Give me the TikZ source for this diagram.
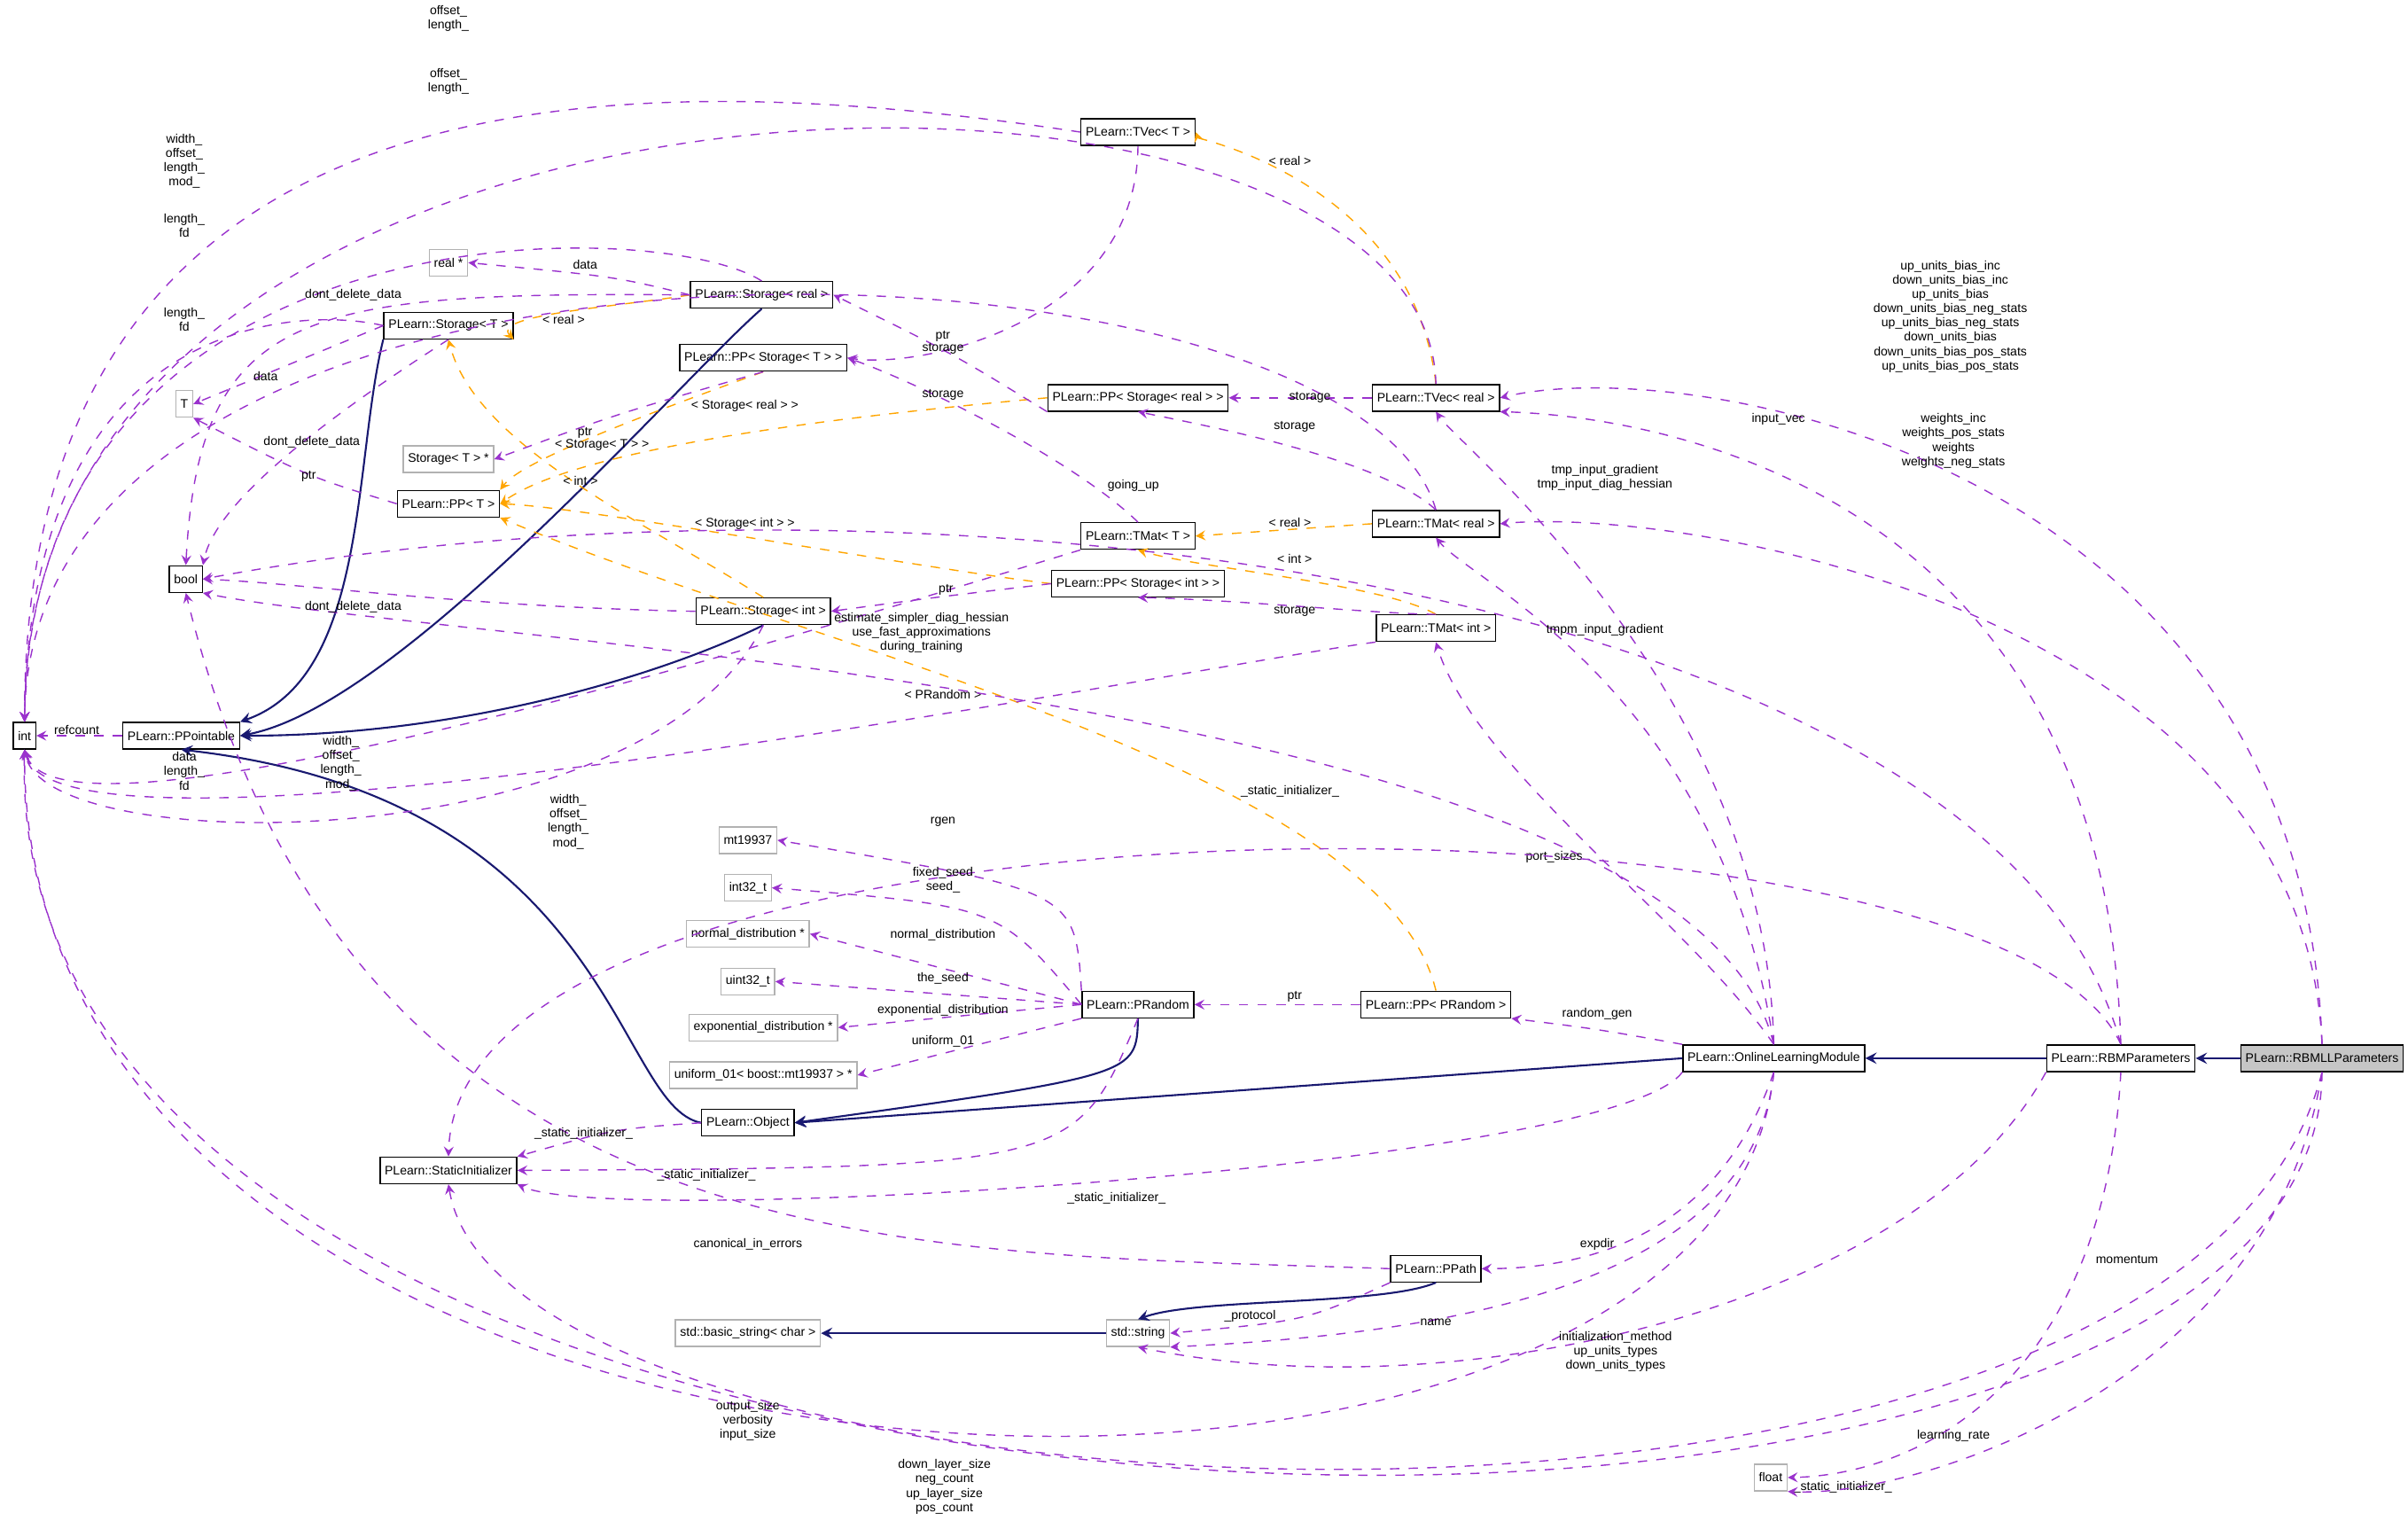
\documentclass[tikz,border=0pt]{standalone}
\usepackage{fontspec}
\setmainfont{Liberation Sans}
\usetikzlibrary{arrows}
\definecolor{usecol}{HTML}{9A32CD}
\definecolor{tplcol}{HTML}{FFA500}
\definecolor{inhcol}{HTML}{191970}
\tikzset{
  cls/.style={draw, fill=white, inner sep=1.5pt, minimum height=0.3cm, font=\fontsize{4}{5}\selectfont},
  ext/.style={cls, draw=gray!60},
  uses/.style={->, dashed, usecol},
  tpl/.style={->, dashed, tplcol},
  inh/.style={->, inhcol, semithick},
  lbl/.style={font=\fontsize{4}{4.6}\selectfont, align=center, inner sep=0pt}
}
\begin{document}
\begin{tikzpicture}[x=0.01733cm, y=-0.01733cm, >=stealth]
            \useasboundingbox (0,0) rectangle (1568,995);
            % classes
            \node[cls] (int) at (16,479) {int};
            \node[cls] (bool) at (121,377) {bool};
            \node[ext] (T) at (120,263) {T};
            \node[ext] (realp) at (292,171) {real *};
            \node[ext] (stp) at (292,299) {Storage< T > *};
            \node[cls] (ppo) at (118,479) {PLearn::PPointable};
            \node[cls] (st) at (292,212) {PLearn::Storage< T >};
            \node[cls] (ppt) at (292,328) {PLearn::PP< T >};
            \node[cls] (sr) at (496,192) {PLearn::Storage< real >};
            \node[cls] (ppst) at (497,233) {PLearn::PP< Storage< T > >};
            \node[cls] (sint) at (497,398) {PLearn::Storage< int >};
            \node[cls] (tvt) at (741,86) {PLearn::TVec< T >};
            \node[cls] (ppsr) at (741,259) {PLearn::PP< Storage< real > >};
            \node[cls] (tmt) at (741,349) {PLearn::TMat< T >};
            \node[cls] (ppsi) at (741,380) {PLearn::PP< Storage< int > >};
            \node[cls] (tvr) at (935,259) {PLearn::TVec< real >};
            \node[cls] (tmr) at (935,341) {PLearn::TMat< real >};
            \node[cls] (tmi) at (935,409) {PLearn::TMat< int >};
            \node[ext] (mt) at (487,547) {mt19937};
            \node[ext] (i32) at (487,578) {int32\_t};
            \node[ext] (nd) at (487,608) {normal\_distribution *};
            \node[ext] (u32) at (487,639) {uint32\_t};
            \node[ext] (ed) at (497,669) {exponential\_distribution *};
            \node[ext] (uni) at (497,700) {uniform\_01< boost::mt19937 > *};
            \node[cls] (pr) at (741,654) {PLearn::PRandom};
            \node[cls] (ppr) at (935,654) {PLearn::PP< PRandom >};
            \node[cls] (obj) at (487,731) {PLearn::Object};
            \node[cls] (sti) at (292,762) {PLearn::StaticInitializer};
            \node[cls] (path) at (935,826) {PLearn::PPath};
            \node[ext] (bstr) at (487,868) {std::basic\_string< char >};
            \node[ext] (str) at (741,868) {std::string};
            \node[cls] (olm) at (1155,689) {PLearn::OnlineLearningModule};
            \node[cls] (rbm) at (1381,689) {PLearn::RBMParameters};
            \node[cls, fill=gray!45] (rbmll) at (1512,689) {PLearn::RBMLLParameters};
            \node[ext] (float) at (1153,962) {float};
            % inheritance
            \draw[inh] (rbmll) -- (rbm);
            \draw[inh] (rbm) -- (olm);
            \draw[inh] (olm.west) -- (obj.east);
            \draw[inh] (pr.south) .. controls (740,700) .. (obj.east);
            \draw[inh] (obj.west) .. controls (400,720) and (400,520) .. (ppo.south);
            \draw[inh] (st.south west) .. controls (230,300) and (240,440) .. (ppo.north east);
            \draw[inh] (sr.south) .. controls (440,250) and (260,460) .. (ppo.east);
            \draw[inh] (sint.south) .. controls (430,440) and (300,479) .. (ppo.east);
            \draw[inh] (path.south) .. controls (900,850) and (780,845) .. (str.north);
            \draw[inh] (str) -- (bstr);
            % template instances
            \draw[tpl] (sr.west) .. controls (400,200) and (320,205) .. (st.south east);
            \draw[tpl] (sint.north) .. controls (420,340) and (310,290) .. (st.south);
            \draw[tpl] (ppst.south) .. controls (420,270) and (340,300) .. (ppt.north east);
            \draw[tpl] (ppsr.west) .. controls (560,270) and (380,290) .. (ppt.east);
            \draw[tpl] (ppsi.west) .. controls (600,370) and (380,330) .. (ppt.east);
            \draw[tpl] (ppr.north) .. controls (900,500) and (520,420) .. (ppt.south east);
            \draw[tpl] (tvr.north) .. controls (920,120) and (780,90) .. (tvt.east);
            \draw[tpl] (tmr.west) -- (tmt.east);
            \draw[tpl] (tmi.north) .. controls (900,380) and (780,370) .. (tmt.south);
            \node[lbl] at (367,208) {< real >};
            \node[lbl] at (378,313) {< int >};
            \node[lbl] at (392,290) {< Storage< T > >};
            \node[lbl] at (485,264) {< Storage< real > >};
            \node[lbl] at (485,341) {< Storage< int > >};
            \node[lbl] at (614,452) {< PRandom >};
            \node[lbl] at (840,105) {< real >};
            \node[lbl] at (840,340) {< real >};
            \node[lbl] at (843,364) {< int >};
            % uses: int
            \draw[uses] (ppo) -- (int);
            \draw[uses] (tvr.north) .. controls (930,0) and (16,0) .. (int.north);
            \draw[uses] (tvt.west) .. controls (400,40) and (16,40) .. (int.north);
            \draw[uses] (tmr.north) .. controls (880,140) and (20,110) .. (int.north);
            \draw[uses] (sr.north) .. controls (430,140) and (20,130) .. (int.north);
            \draw[uses] (st.west) .. controls (200,200) and (20,200) .. (int.north);
            \draw[uses] (sint.south) .. controls (420,560) and (30,560) .. (int.south);
            \draw[uses] (tmt.south west) .. controls (500,420) and (40,560) .. (int.south);
            \draw[uses] (tmi.south west) .. controls (800,430) and (40,580) .. (int.south);
            \draw[uses] (olm.south) .. controls (1120,1060) and (15,1020) .. (int.south);
            \draw[uses] (rbmll.south) .. controls (1510,1090) and (0,1060) .. (int.south);
            \node[lbl] at (50,475) {refcount};
            \node[lbl] at (292,12) {offset\_\\length\_};
            \node[lbl] at (292,53) {offset\_\\length\_};
            \node[lbl] at (120,105) {width\_\\offset\_\\length\_\\mod\_};
            \node[lbl] at (120,147) {length\_\\fd};
            \node[lbl] at (120,208) {length\_\\fd};
            \node[lbl] at (120,502) {data\\length\_\\fd};
            \node[lbl] at (222,497) {width\_\\offset\_\\length\_\\mod\_};
            \node[lbl] at (370,535) {width\_\\offset\_\\length\_\\mod\_};
            \node[lbl] at (487,925) {output\_size\\verbosity\\input\_size};
            \node[lbl] at (615,968) {down\_layer\_size\\neg\_count\\up\_layer\_size\\pos\_count};
            % uses: bool
            \draw[uses] (sr.west) .. controls (200,190) and (130,200) .. (bool.north);
            \draw[uses] (st.south) .. controls (200,280) and (140,330) .. (bool.north east);
            \draw[uses] (sint.west) .. controls (300,395) and (200,380) .. (bool.east);
            \draw[uses] (olm.north) .. controls (1100,450) and (300,420) .. (bool.south east);
            \draw[uses] (rbm.north) .. controls (1300,380) and (600,290) .. (bool.east);
            \draw[uses] (path.west) .. controls (600,815) and (230,830) .. (bool.south);
            \node[lbl] at (230,192) {dont\_delete\_data};
            \node[lbl] at (203,288) {dont\_delete\_data};
            \node[lbl] at (230,395) {dont\_delete\_data};
            \node[lbl] at (600,412) {estimate\_simpler\_diag\_hessian\\use\_fast\_approximations\\during\_training};
            \node[lbl] at (738,316) {going\_up};
            \node[lbl] at (487,810) {canonical\_in\_errors};
            % uses: small members
            \draw[uses] (st.west) -- (T.east);
            \draw[uses] (ppt.west) .. controls (200,310) .. (T.south east);
            \draw[uses] (sr.west) .. controls (400,180) .. (realp.east);
            \draw[uses] (ppst.south) .. controls (400,270) .. (stp.east);
            \draw[uses] (ppsr.south west) .. controls (620,230) .. (sr.east);
            \draw[uses] (tvt.south) .. controls (740,210) and (600,240) .. (ppst.east);
            \draw[uses] (tmt.north) .. controls (700,300) and (600,250) .. (ppst.east);
            \draw[uses] (tvr) -- (ppsr);
            \draw[uses] (tmr.north) .. controls (900,300) and (800,280) .. (ppsr.south);
            \draw[uses] (tmi.north) .. controls (900,400) and (800,390) .. (ppsi.south);
            \draw[uses] (ppsi.west) .. controls (600,390) .. (sint.east);
            \node[lbl] at (173,245) {data};
            \node[lbl] at (201,310) {ptr};
            \node[lbl] at (381,172) {data};
            \node[lbl] at (381,282) {ptr};
            \node[lbl] at (614,219) {ptr};
            \node[lbl] at (614,227) {storage};
            \node[lbl] at (614,257) {storage};
            \node[lbl] at (853,259) {storage};
            \node[lbl] at (843,278) {storage};
            \node[lbl] at (843,398) {storage};
            \node[lbl] at (616,384) {ptr};
            % uses: RBM members
            \draw[uses] (rbmll.north) .. controls (1500,300) and (1100,230) .. (tvr.east);
            \draw[uses] (rbm.north) .. controls (1370,300) and (1050,270) .. (tvr.south east);
            \draw[uses] (olm.north) .. controls (1150,450) and (950,290) .. (tvr.south);
            \draw[uses] (rbmll.north) .. controls (1500,400) and (1100,330) .. (tmr.east);
            \draw[uses] (olm.north) .. controls (1120,450) and (960,380) .. (tmr.south);
            \draw[uses] (olm.north) .. controls (1100,600) and (960,500) .. (tmi.south);
            \node[lbl] at (1270,206) {up\_units\_bias\_inc\\down\_units\_bias\_inc\\up\_units\_bias\\down\_units\_bias\_neg\_stats\\up\_units\_bias\_neg\_stats\\down\_units\_bias\\down\_units\_bias\_pos\_stats\\up\_units\_bias\_pos\_stats};
            \node[lbl] at (1158,273) {input\_vec};
            \node[lbl] at (1045,311) {tmp\_input\_gradient\\tmp\_input\_diag\_hessian};
            \node[lbl] at (1272,287) {weights\_inc\\weights\_pos\_stats\\weights\\weights\_neg\_stats};
            \node[lbl] at (1045,410) {tmpm\_input\_gradient};
            \node[lbl] at (1012,558) {port\_sizes};
            % uses: static initializer
            \draw[uses] (obj.west) .. controls (400,735) .. (sti.north east);
            \draw[uses] (pr.south) .. controls (700,760) .. (sti.east);
            \draw[uses] (olm.south west) .. controls (1050,760) and (400,800) .. (sti.south east);
            \draw[uses] (rbm.north) .. controls (1300,500) and (300,500) .. (sti.north);
            \draw[uses] (rbmll.south) .. controls (1420,1060) and (330,1000) .. (sti.south);
            \node[lbl] at (380,738) {\_static\_initializer\_};
            \node[lbl] at (460,765) {\_static\_initializer\_};
            \node[lbl] at (727,780) {\_static\_initializer\_};
            \node[lbl] at (840,515) {\_static\_initializer\_};
            \node[lbl] at (1200,968) {\_static\_initializer\_};
            % uses: PRandom
            \draw[uses] (pr.north west) .. controls (700,580) .. (mt.east);
            \draw[uses] (pr.west) .. controls (650,590) .. (i32.east);
            \draw[uses] (pr.west) -- (nd.east);
            \draw[uses] (pr.west) -- (u32.east);
            \draw[uses] (pr.west) -- (ed.east);
            \draw[uses] (pr.south west) -- (uni.east);
            \draw[uses] (ppr) -- (pr);
            \draw[uses] (olm.north west) .. controls (1040,670) .. (ppr.south east);
            \draw[uses] (olm.south) .. controls (1120,800) and (1040,826) .. (path.east);
            \draw[uses] (path.south west) .. controls (850,860) .. (str.east);
            \draw[uses] (olm.south) .. controls (1140,850) and (900,870) .. (str.south east);
            \draw[uses] (rbm.south west) .. controls (1250,850) and (950,920) .. (str.south);
            \draw[uses] (rbm.south) .. controls (1370,900) and (1250,960) .. (float.east);
            \draw[uses] (rbmll.south) .. controls (1480,900) and (1250,975) .. (float.south east);
            \node[lbl] at (614,535) {rgen};
            \node[lbl] at (614,573) {fixed\_seed\\seed\_};
            \node[lbl] at (614,609) {normal\_distribution};
            \node[lbl] at (614,637) {the\_seed};
            \node[lbl] at (614,658) {exponential\_distribution};
            \node[lbl] at (614,678) {uniform\_01};
            \node[lbl] at (843,649) {ptr};
            \node[lbl] at (1040,660) {random\_gen};
            \node[lbl] at (1040,810) {expdir};
            \node[lbl] at (814,857) {\_protocol};
            \node[lbl] at (935,861) {name};
            \node[lbl] at (1052,880) {initialization\_method\\up\_units\_types\\down\_units\_types};
            \node[lbl] at (1272,935) {learning\_rate};
            \node[lbl] at (1385,820) {momentum};
        \end{tikzpicture}
\end{document}
